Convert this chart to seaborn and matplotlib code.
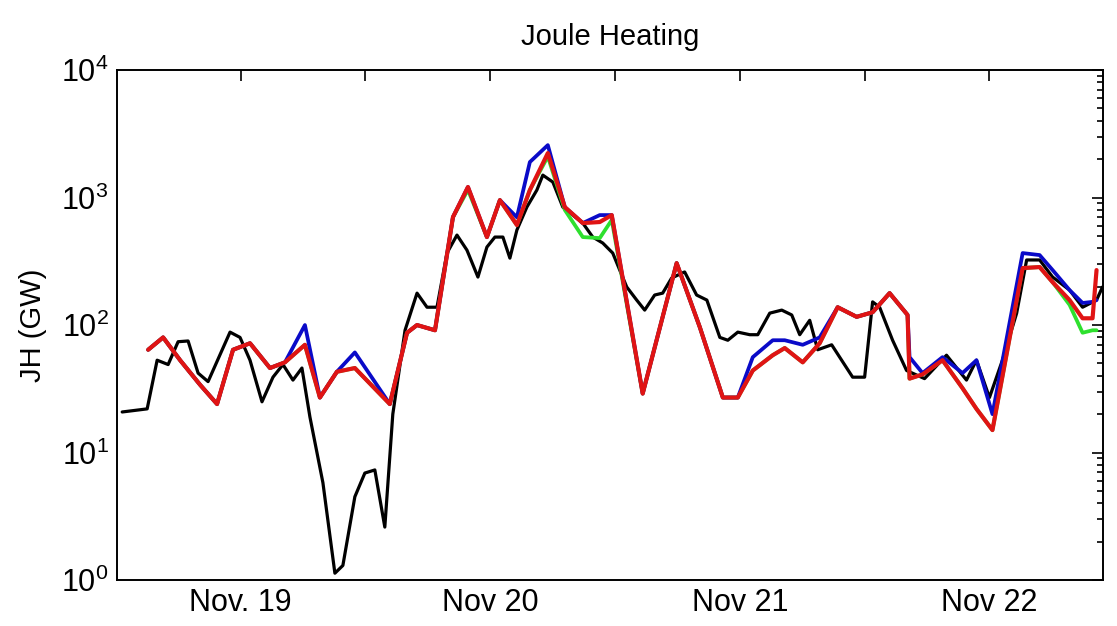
import numpy as np
import pandas as pd
import matplotlib
matplotlib.use("Agg")
import matplotlib.pyplot as plt
import seaborn as sns
from matplotlib.ticker import LogLocator, FixedLocator, FixedFormatter, NullFormatter

# ---- data (time in fractional days of November, JH in GW) ----
model_days = [18.630, 18.690, 18.758, 18.838, 18.906, 18.970, 19.038, 19.118, 19.178, 19.258,
              19.318, 19.386, 19.458, 19.598, 19.667, 19.707, 19.779, 19.851, 19.911, 19.987,
              20.039, 20.107, 20.159, 20.231, 20.299, 20.371, 20.439, 20.487, 20.611, 20.747,
              20.840, 20.932, 20.992, 21.052, 21.132, 21.180, 21.252, 21.320, 21.392, 21.468,
              21.532, 21.600, 21.672, 21.680, 21.732, 21.812, 21.892, 21.948, 22.012, 22.133,
              22.201, 22.253, 22.321, 22.373, 22.413, 22.429]

jh_red = [64, 80, 53, 34, 24, 64, 72, 46, 51, 70,
          27, 43, 46, 24, 87, 100, 91, 703, 1210, 490,
          955, 609, 1145, 2234, 842, 631, 643, 729, 29, 306,
          96, 27, 27, 44, 58, 66, 51, 72, 138, 116,
          126, 178, 120, 38, 41, 53, 32, 22, 15, 280,
          285, 217, 157, 113, 113, 270]

jh_blue = [64, 80, 53, 34, 24, 64, 72, 46, 51, 100,
           27, 43, 61, 24, 87, 100, 91, 703, 1210, 490,
           955, 700, 1900, 2580, 842, 631, 729, 729, 29, 306,
           96, 27, 27, 56, 76, 76, 70, 80, 138, 116,
           126, 178, 120, 56, 42, 56, 42, 53, 20, 367,
           354, 270, 188, 149, 152, 157]

jh_green = [64, 80, 53, 34, 24, 64, 72, 46, 51, 70,
            27, 43, 46, 24, 87, 100, 91, 703, 1150, 490,
            955, 609, 1145, 2100, 800, 490, 481, 667, 29, 306,
            96, 27, 27, 44, 58, 66, 51, 72, 138, 116,
            126, 178, 120, 38, 41, 53, 32, 22, 15, 280,
            285, 217, 144, 87, 91, 91]

obs_days = [18.526, 18.626, 18.666, 18.710, 18.750, 18.790, 18.830, 18.870, 18.958, 18.998,
            19.038, 19.086, 19.130, 19.170, 19.210, 19.246, 19.278, 19.330, 19.378, 19.410,
            19.458, 19.498, 19.538, 19.578, 19.610, 19.659, 19.707, 19.747, 19.787, 19.827,
            19.867, 19.907, 19.951, 19.987, 20.019, 20.051, 20.079, 20.107, 20.147, 20.187,
            20.211, 20.251, 20.291, 20.331, 20.371, 20.411, 20.451, 20.491, 20.519, 20.547,
            20.587, 20.619, 20.659, 20.691, 20.727, 20.779, 20.827, 20.868, 20.920, 20.952,
            20.992, 21.040, 21.072, 21.120, 21.168, 21.208, 21.240, 21.280, 21.312, 21.368,
            21.400, 21.452, 21.500, 21.532, 21.560, 21.612, 21.668, 21.740, 21.828, 21.908,
            21.948, 22.000, 22.052, 22.109, 22.149, 22.201, 22.253, 22.321, 22.373, 22.429,
            22.453]

jh_black = [20.8, 22, 53, 49, 74, 75, 42, 36, 88, 80,
            53, 25, 39, 49, 37, 46, 19, 5.8, 1.13, 1.3,
            4.5, 6.9, 7.3, 2.6, 20, 91, 178, 138, 138, 367,
            508, 387, 238, 409, 490, 490, 335, 556, 842, 1145,
            1500, 1324, 842, 729, 631, 490, 440, 367, 270, 199,
            157, 131, 172, 178, 234, 261, 172, 157, 80, 76,
            88, 84, 84, 124, 131, 120, 84, 109, 64, 70,
            56, 39, 39, 152, 138, 76, 44, 38, 58, 37,
            53, 27, 53, 124, 324, 324, 238, 188, 138, 157,
            199]

tick_days = [19, 19.5, 20, 20.5, 21, 21.5, 22]
tick_labels = ["Nov. 19", "", "Nov 20", "", "Nov 21", "", "Nov 22"]

# ---- style ----
sns.set_style("white")
plt.rcParams["font.family"] = ["Liberation Sans", "DejaVu Sans"]
plt.rcParams["mathtext.fontset"] = "custom"
plt.rcParams["mathtext.rm"] = "Liberation Sans"
plt.rcParams["mathtext.it"] = "Liberation Sans:italic"
for key in ("text.color", "axes.labelcolor", "xtick.color", "ytick.color", "axes.edgecolor"):
    plt.rcParams[key] = "black"

fig = plt.figure(figsize=(11.17, 6.26), dpi=100)
ax = fig.add_axes([0.1047, 0.0735, 0.8828, 0.8145])

sns.lineplot(x=obs_days, y=jh_black, ax=ax, color="black", lw=2.3,
             estimator=None, sort=False, zorder=2)
sns.lineplot(x=model_days, y=jh_green, ax=ax, color="#2ee02e", lw=2.7,
             estimator=None, sort=False, zorder=3)
sns.lineplot(x=model_days, y=jh_blue, ax=ax, color="#0a0ac8", lw=2.7,
             estimator=None, sort=False, zorder=4)
sns.lineplot(x=model_days, y=jh_red, ax=ax, color="#e01414", lw=3.0,
             estimator=None, sort=False, zorder=5)

ax.set_yscale("log")
ax.set_ylim(1, 1e4)
ax.set_xlim(18.505, 22.455)

ax.xaxis.set_major_locator(FixedLocator(tick_days))
ax.xaxis.set_major_formatter(FixedFormatter(tick_labels))
ax.yaxis.set_major_locator(LogLocator(base=10, numticks=10))
ax.yaxis.set_minor_locator(LogLocator(base=10, subs=np.arange(2, 10), numticks=10))
ax.yaxis.set_minor_formatter(NullFormatter())

ax.tick_params(axis="both", which="both", direction="in", top=True, right=True,
               color="black", width=1.2)
ax.tick_params(axis="both", which="major", length=8, labelsize=22, pad=6)
ax.tick_params(axis="y", which="minor", length=4)
for s in ax.spines.values():
    s.set_color("black")
    s.set_linewidth(1.4)

ax.set_xlabel("")
ax.set_ylabel("JH (GW)", fontsize=21, labelpad=10)
ax.set_title("Joule Heating", fontsize=21, pad=18)

fig.savefig("out.png", dpi=100, facecolor="white")
